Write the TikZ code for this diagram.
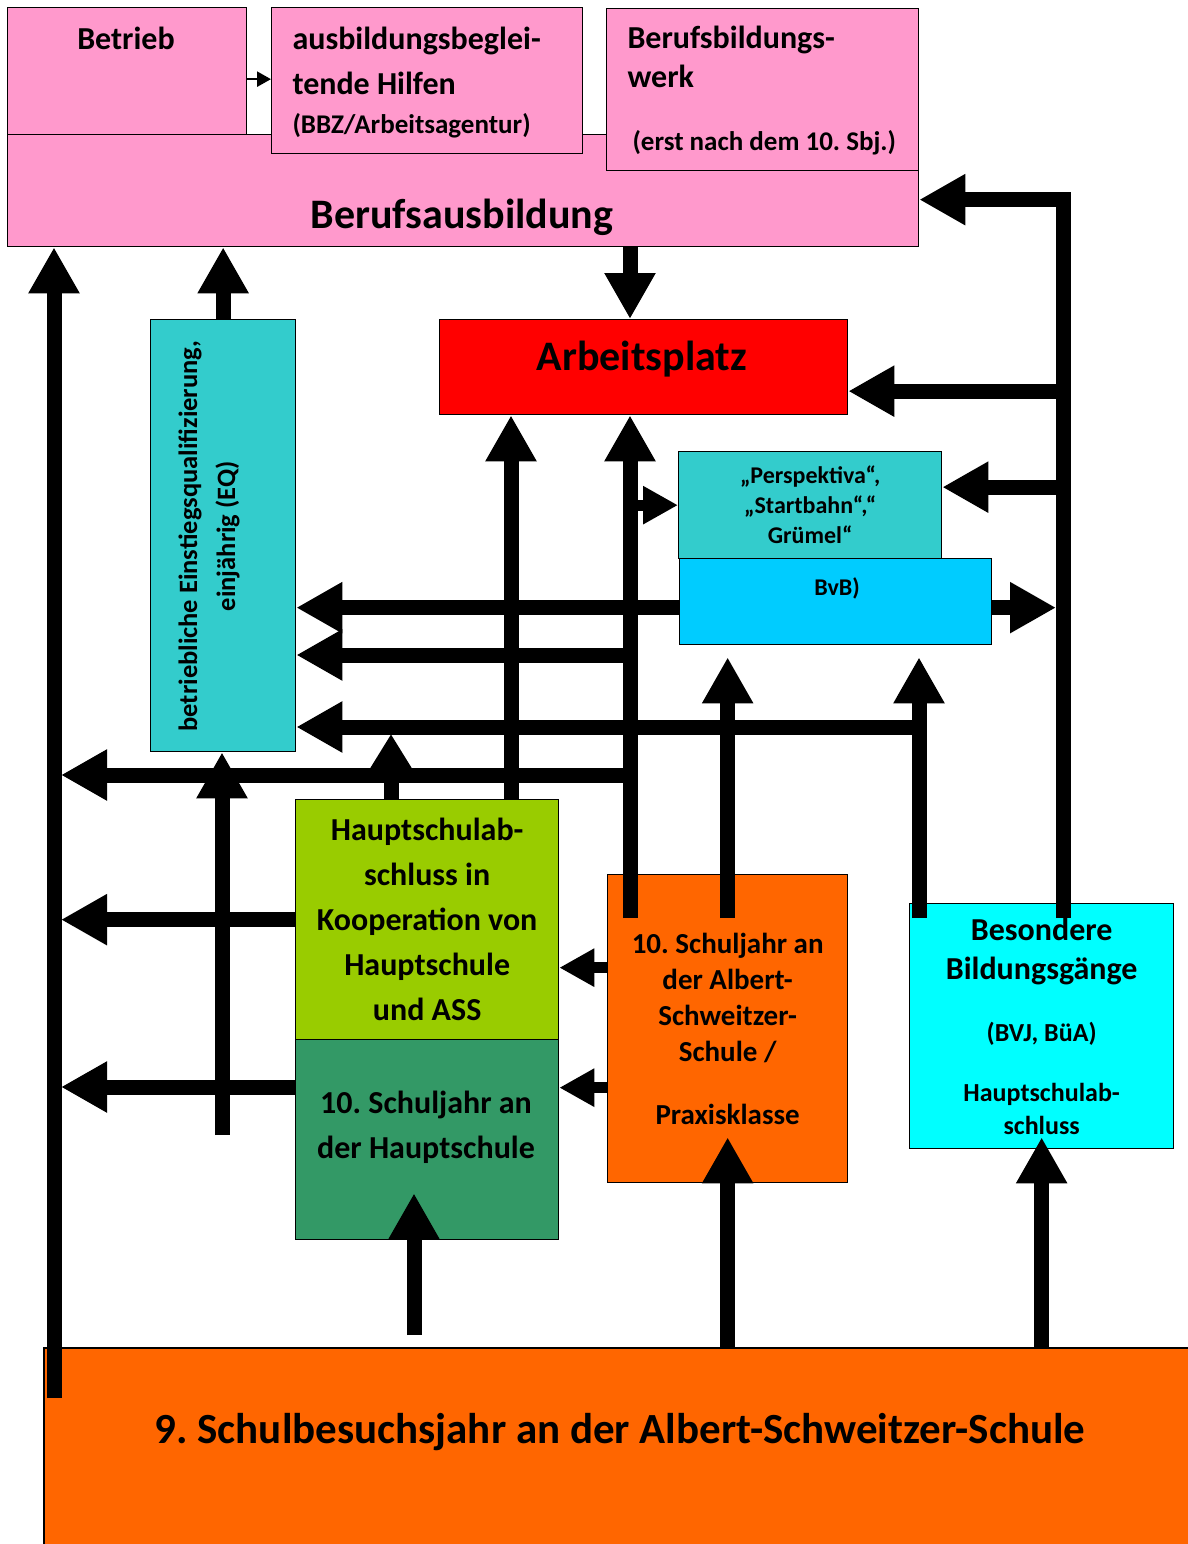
\documentclass[tikz,border=0pt]{standalone}
\usepackage{fontspec}
\setmainfont{Carlito}
\usepackage{xcolor}
\usetikzlibrary{arrows.meta,positioning,calc}
\definecolor{rosa}{HTML}{FF99CC}
\definecolor{tuerkis}{HTML}{33CCCC}
\definecolor{himmelblau}{HTML}{00CCFF}
\definecolor{hellcyan}{HTML}{00FFFF}
\definecolor{gelbgruen}{HTML}{99CC00}
\definecolor{seegruen}{HTML}{339966}
\definecolor{assorange}{HTML}{FF6600}
\definecolor{knallrot}{HTML}{FF0000}
\frenchspacing
\tikzset{
  box/.style={draw,line width=1.3pt,anchor=north west,inner sep=0pt},
  gross/.style={font=\bfseries\fontsize{42}{50}\selectfont},
  mittel/.style={font=\bfseries\fontsize{32}{45}\selectfont,align=center},
  fat/.style={line width=15pt,-{Triangle[length=46pt,width=48pt]}},
  slim/.style={line width=11pt,-{Triangle[length=35pt,width=36pt]}},
  zart/.style={line width=2.5pt,-{Triangle[length=14pt,width=15pt]}}
}
\begin{document}
\begin{tikzpicture}[x=1pt,y=-1pt]
\useasboundingbox (0,0) rectangle (1188,1544);

\node[box,fill=rosa,minimum width=911pt,minimum height=112pt] (ausb) at (7,134) {};
\node[box,fill=rosa,minimum width=239pt,minimum height=127pt] (betrieb) at (7,7) {};
\node[box,fill=rosa,minimum width=311pt,minimum height=146pt] (abh) at (271,7) {};
\node[box,fill=rosa,minimum width=312pt,minimum height=162pt] (bbw) at (606,8) {};
\node[gross] (ausbtext) at (462,217) {Berufsausbildung};
\node[mittel] (betriebtext) at (126,38) {Betrieb};
\node[mittel,align=left,anchor=west] (abhtext) at (289,83)
  {ausbildungsbeglei-\\tende Hilfen\\[-6pt]{\fontsize{27}{45}\selectfont(BBZ/Arbeitsagentur)}};
\node[font=\bfseries\fontsize{32}{39}\selectfont,align=left,anchor=west] (bbwtext) at (624,91)
  {Berufsbildungs-\\werk\\[24pt]{\fontsize{27}{39}\selectfont\hspace*{5pt}(erst nach dem 10. Sbj.)}};

\node[box,fill=knallrot,minimum width=408pt,minimum height=95pt] (arbeit) at (439,319) {};
\node[gross] (arbeittext) at (642,359) {Arbeitsplatz};
\node[box,fill=tuerkis,minimum width=145pt,minimum height=432pt] (eq) at (150,319) {};
\node[font=\bfseries\fontsize{26.5}{38}\selectfont,align=center,rotate=90] (eqtext) at (209,536)
  {betriebliche Einstiegsqualifizierung,\\einjährig (EQ)};
\node[box,fill=himmelblau,minimum width=312pt,minimum height=86pt] (bvb) at (679,558) {};
\node[box,fill=tuerkis,minimum width=263pt,minimum height=107pt,font=\bfseries\fontsize{24}{30}\selectfont,align=center] (persp) at (678,451)
  {„Perspektiva“,\\„Startbahn“,“\\Grümel“};
\node[font=\bfseries\fontsize{24}{30}\selectfont] (bvbtext) at (837,588) {BvB)};

\node[box,fill=gelbgruen,minimum width=263pt,minimum height=240pt,mittel] (hsa) at (295,799)
  {Hauptschulab-\\schluss in\\Kooperation von\\Hauptschule\\und ASS};
\node[box,fill=seegruen,minimum width=263pt,minimum height=200pt] (hs10) at (295,1039) {};
\node[mittel] (hs10text) at (426,1127) {10. Schuljahr an\\der Hauptschule};
\node[box,fill=assorange,minimum width=240pt,minimum height=308pt,font=\bfseries\fontsize{29}{36}\selectfont,align=center] (ass10) at (607,874)
  {10. Schuljahr an\\der Albert-\\Schweitzer-\\Schule /\\[27pt]Praxisklasse};
\node[box,fill=hellcyan,minimum width=264pt,minimum height=245pt,font=\bfseries\fontsize{26}{33}\selectfont,align=center] (bes) at (909,903)
  {{\fontsize{32}{33}\selectfont Besondere}\\[6pt]{\fontsize{32}{33}\selectfont Bildungsgänge}\\[29pt](BVJ, BüA)\\[27pt]Hauptschulab-\\schluss};

\node[box,fill=assorange,draw=none,minimum width=1144pt,minimum height=196pt] (basis) at (44,1348) {};
\draw[line width=1.3pt] (basis.south west) -- (basis.north west) -- (basis.north east);
\node[font=\bfseries\fontsize{43}{50}\selectfont] (basistext) at (620,1432) {9. Schulbesuchsjahr an der Albert-Schweitzer-Schule};

\coordinate (linksunten) at (54,1398);
\coordinate (mitte) at (630,918);
\coordinate (rechtsunten) at (1063,918);
\coordinate (bvbfuss) at (919,918);
\coordinate (eqfuss) at (222,1135);
\coordinate (hsfuss) at (414,1335);
\coordinate (d0) at (511,799);
\coordinate (l0) at (391,799);
\coordinate (h0) at (630,655);
\coordinate (i0) at (919,727);
\coordinate (j0) at (630,775);
\coordinate (n0) at (295,1087);

\draw[zart] ($(betrieb.east)+(0,8)$) coordinate (b1) -- (b1 -| abh.west);
\draw[fat] (linksunten) -- (linksunten |- ausb.south);
\draw[fat] (eq.north) -- (eq.north |- ausb.south);
\draw[fat] (mitte |- ausb.south) -- (mitte |- arbeit.north);
\draw[fat] (d0) -- (d0 |- arbeit.south);
\draw[fat] (mitte) -- (mitte |- arbeit.south);
\draw[slim] (mitte |- persp.west) -- (persp.west);
\draw[fat] ($(bvb.west)+(0,6)$) coordinate (g1) -- (g1 -| eq.east);
\draw[fat] (h0) -- (h0 -| eq.east);
\draw[fat] (i0) -- (i0 -| eq.east);
\draw[fat] (j0) -- ($(j0 -| linksunten)+(7,0)$);
\draw[fat] (eqfuss) -- (eqfuss |- eq.south);
\draw[line width=15pt,-{Triangle[length=35pt,width=40pt]}] (l0) -- ($(l0 |- i0)+(0,7)$);
\draw[fat] (hsa.west) -- ($(hsa.west -| linksunten)+(7,0)$);
\draw[fat] (n0) -- ($(n0 -| linksunten)+(7,0)$);
\draw[slim] ($(ass10.west)+(0,-61)$) coordinate (o1) -- (o1 -| hsa.east);
\draw[slim] ($(ass10.west)+(0,59)$) coordinate (p1) -- (p1 -| hs10.east);
\draw[fat] ($(ass10.north)+(0,44)$) coordinate (q1) -- ($(q1 |- bvb.south)+(0,12)$);
\draw[fat] (bvbfuss) -- ($(bvbfuss |- bvb.south)+(0,12)$);
\draw[fat] (rechtsunten) |- ($(ausb.east)+(0,9)$);
\path ($(arbeit.east)+(0,24)$) coordinate (t1) ($(persp.east)+(0,-18)$) coordinate (u1);
\draw[fat] (rechtsunten |- t1) -- (t1);
\draw[fat] (rechtsunten |- u1) -- (u1);
\draw[fat] ($(bvb.east)+(0,6)$) coordinate (v1) -- ($(v1 -| rechtsunten)+(-7,0)$);
\draw[fat] (hsfuss) -- ($(hsfuss |- hs10.south)+(0,-47)$);
\draw[fat] (ass10.south |- basis.north) -- ($(ass10.south)+(0,-46)$);
\draw[fat] (bes.south |- basis.north) -- ($(bes.south)+(0,-12)$);
\end{tikzpicture}
\end{document}
